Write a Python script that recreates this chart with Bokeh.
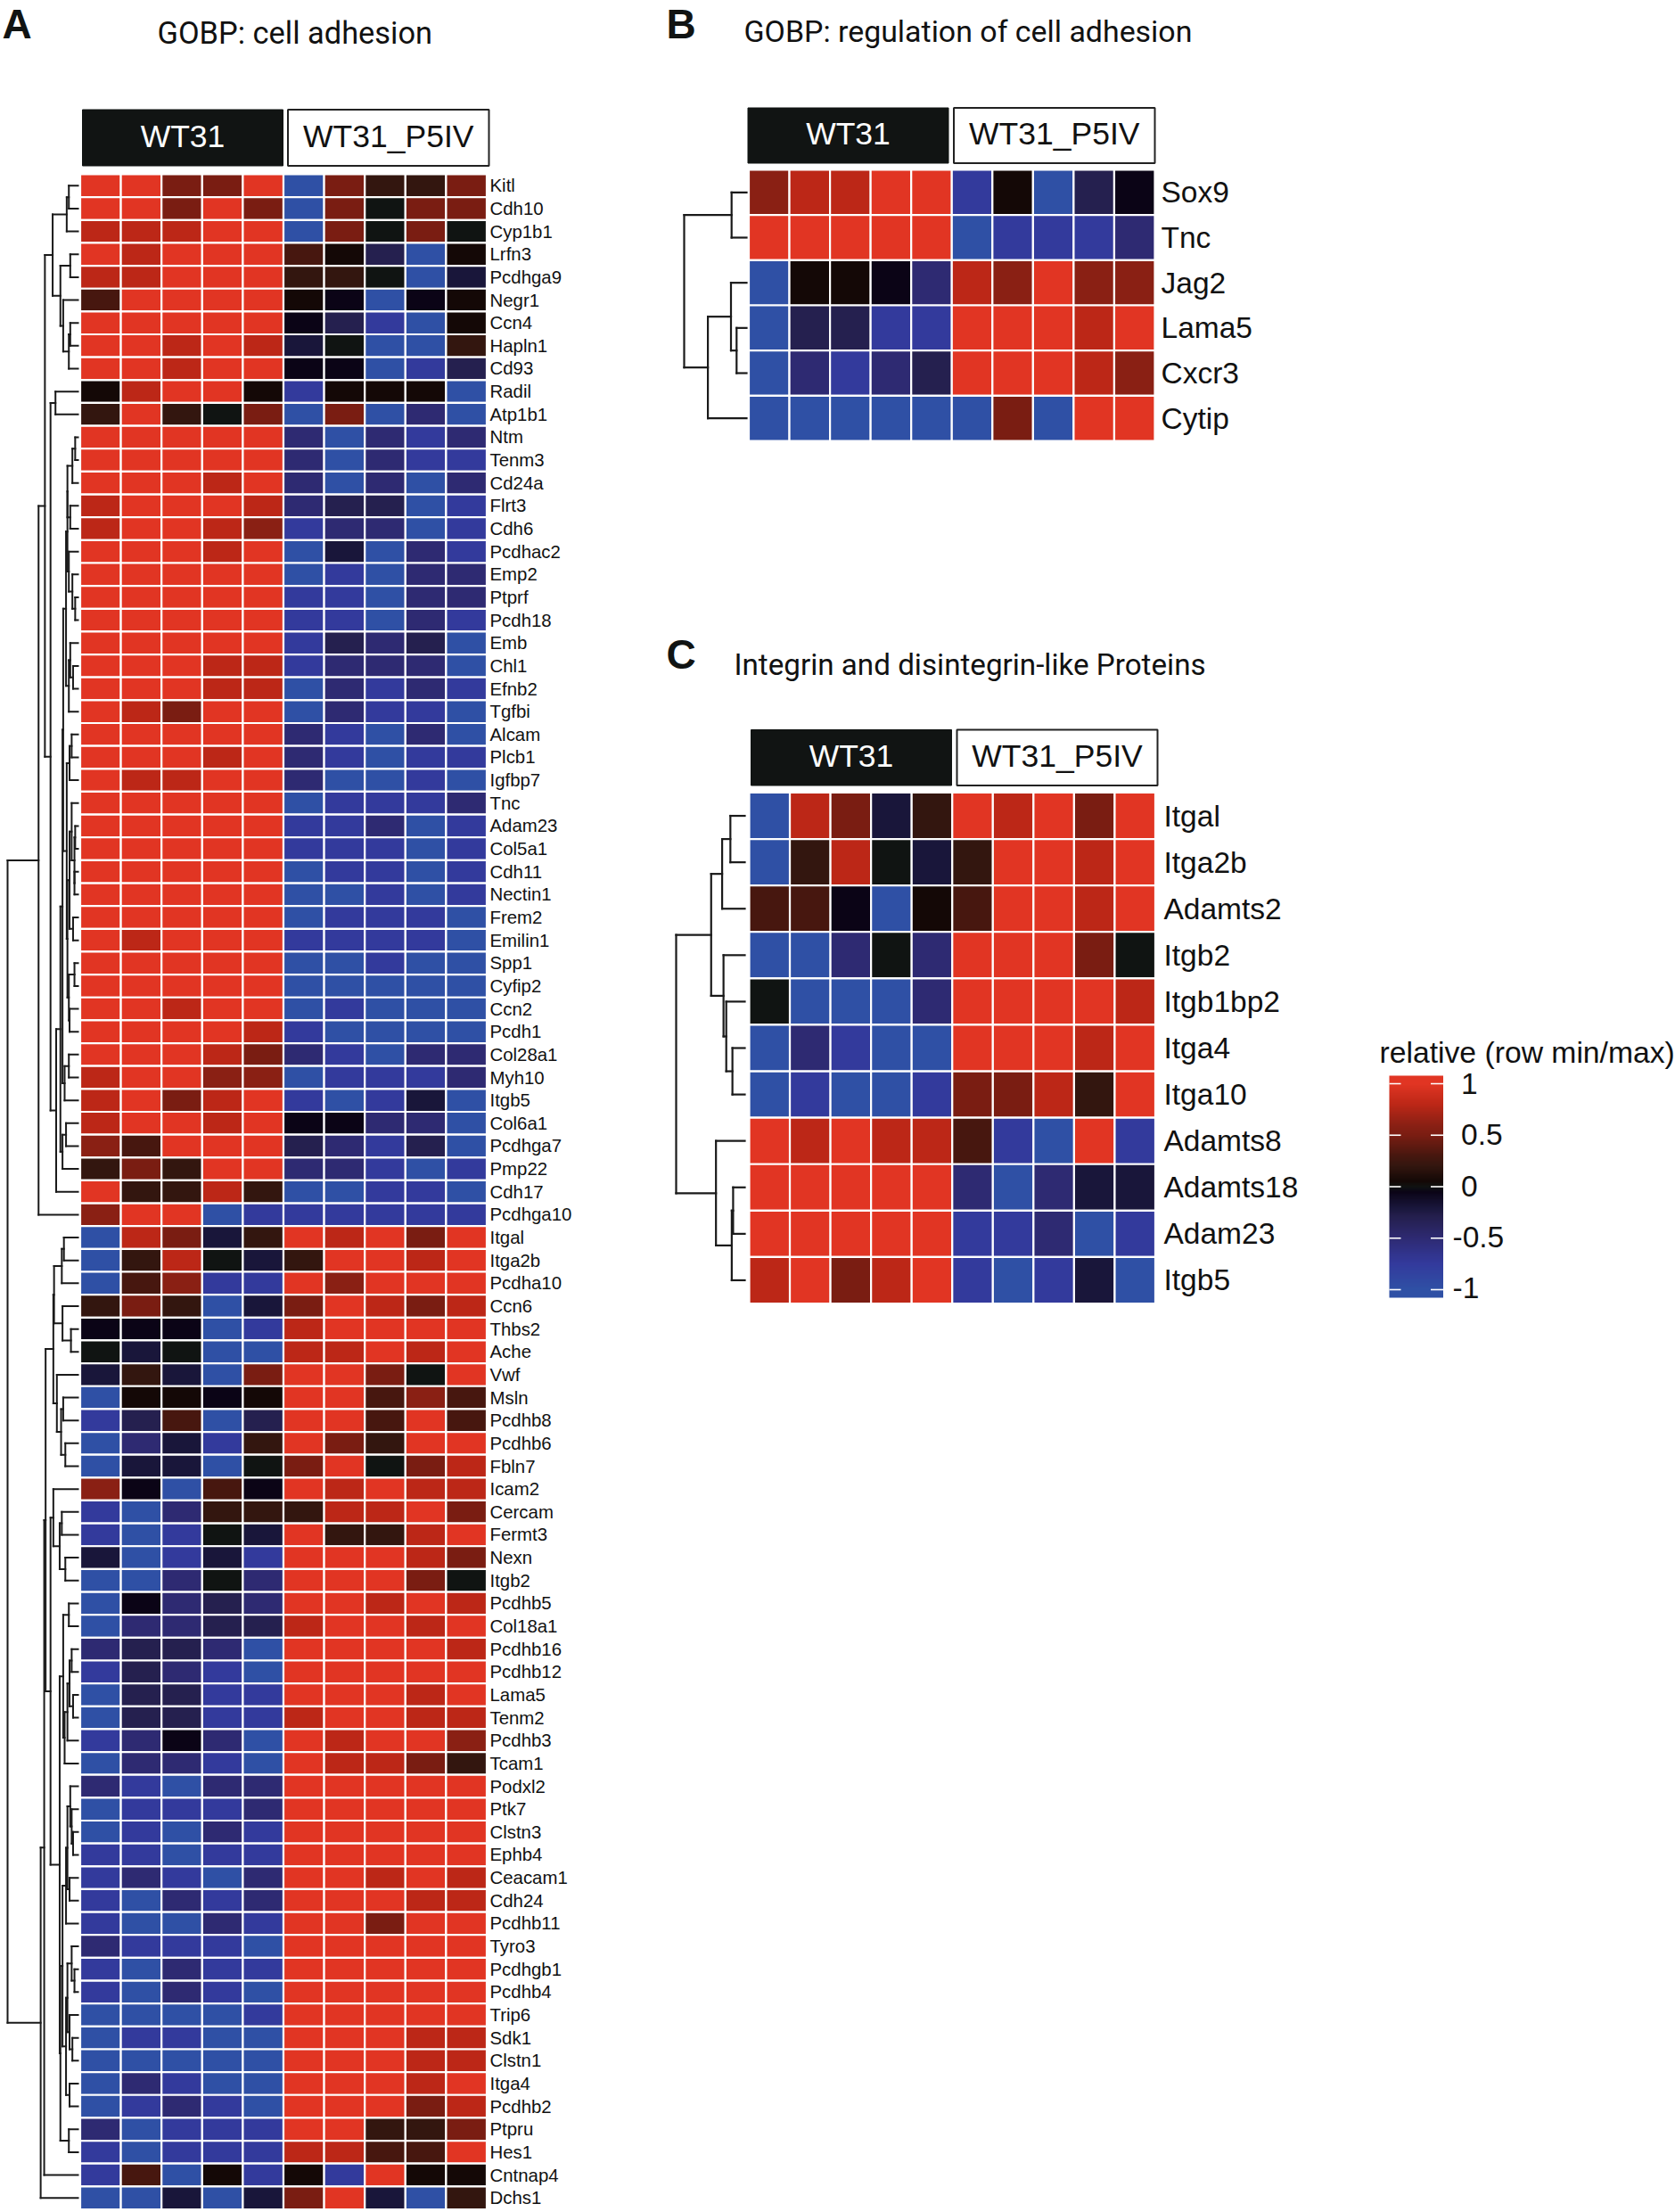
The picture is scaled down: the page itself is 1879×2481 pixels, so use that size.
from bokeh.plotting import figure
from bokeh.models import Range1d, LinearColorMapper, ColumnDataSource, Spacer
from bokeh.layouts import row, column
from bokeh.core.properties import value
from bokeh.embed import file_html
from bokeh.resources import INLINE
import numpy as np

group_labels = ["WT31", "WT31_P5IV"]
colorbar_ticks = [1, 0.5, 0, -0.5, -1]
colorbar_tick_labels = ["1", "0.5", "0", "-0.5", "-1"]

a_genes = ["Kitl","Cdh10","Cyp1b1","Lrfn3","Pcdhga9","Negr1","Ccn4","Hapln1","Cd93","Radil","Atp1b1","Ntm","Tenm3","Cd24a","Flrt3","Cdh6","Pcdhac2","Emp2","Ptprf","Pcdh18","Emb","Chl1","Efnb2","Tgfbi","Alcam","Plcb1","Igfbp7","Tnc","Adam23","Col5a1","Cdh11","Nectin1","Frem2","Emilin1","Spp1","Cyfip2","Ccn2","Pcdh1","Col28a1","Myh10","Itgb5","Col6a1","Pcdhga7","Pmp22","Cdh17","Pcdhga10","Itgal","Itga2b","Pcdha10","Ccn6","Thbs2","Ache","Vwf","Msln","Pcdhb8","Pcdhb6","Fbln7","Icam2","Cercam","Fermt3","Nexn","Itgb2","Pcdhb5","Col18a1","Pcdhb16","Pcdhb12","Lama5","Tenm2","Pcdhb3","Tcam1","Podxl2","Ptk7","Clstn3","Ephb4","Ceacam1","Cdh24","Pcdhb11","Tyro3","Pcdhgb1","Pcdhb4","Trip6","Sdk1","Clstn1","Itga4","Pcdhb2","Ptpru","Hes1","Cntnap4","Dchs1"]
a_values = [
[1,1,.5,.5,1,-1,.5,.2,.2,.5],
[1,1,.5,1,.5,-1,.5,0,.5,.5],
[.8,.8,.8,1,1,-1,.5,0,.5,0],
[1,.8,1,1,1,.3,.05,-.3,-1,.05],
[.8,.8,1,1,1,.2,.2,0,-1,-.2],
[.3,1,1,1,1,.05,-.05,-1,-.05,.05],
[1,1,1,1,1,-.05,-.3,-.75,-1,.05],
[1,1,.8,1,.8,-.2,0,-1,-1,.2],
[1,1,.8,1,1,-.05,-.05,-1,-.75,-.3],
[.05,.8,1,1,.05,-.75,.05,.05,.05,-1],
[.2,1,.2,0,.5,-1,.5,-1,-.5,-1],
[1,1,1,1,1,-.5,-1,-.5,-.75,-.5],
[1,1,1,1,1,-.5,-1,-.5,-.75,-.75],
[1,1,1,.8,1,-.5,-1,-.5,-1,-.5],
[.8,1,1,1,.8,-.5,-.3,-.3,-1,-.75],
[.8,1,1,.8,.6,-.75,-.5,-.5,-1,-.75],
[1,1,1,.8,1,-1,-.2,-1,-.5,-.75],
[1,1,1,1,1,-1,-.75,-1,-.5,-.5],
[1,1,1,1,1,-.75,-.75,-1,-.5,-.5],
[1,1,1,1,1,-.75,-.75,-1,-.5,-.75],
[1,1,1,1,1,-.75,-.3,-.5,-.3,-1],
[1,1,1,.8,.8,-.75,-.5,-.5,-.5,-1],
[1,1,1,.8,.8,-1,-.5,-.75,-.5,-.75],
[1,.8,.5,1,1,-1,-.5,-.75,-.75,-1],
[1,1,1,1,1,-.5,-.75,-1,-.5,-1],
[1,1,1,.8,1,-.5,-.75,-1,-.75,-.75],
[1,.8,.8,1,1,-.5,-1,-1,-.75,-1],
[1,1,1,1,1,-1,-.75,-.75,-.75,-.5],
[1,1,1,1,1,-.75,-.75,-.5,-1,-.75],
[1,1,1,1,1,-.75,-.75,-.75,-1,-.75],
[1,1,1,1,1,-1,-.75,-.75,-1,-.75],
[1,1,1,1,1,-1,-1,-.75,-1,-.75],
[1,1,1,1,1,-1,-.75,-.75,-.75,-1],
[1,.8,1,1,1,-.75,-.75,-.75,-.75,-1],
[1,1,1,1,1,-1,-1,-.75,-1,-1],
[1,1,1,1,1,-1,-1,-1,-1,-1],
[1,1,.8,1,1,-1,-.75,-1,-1,-1],
[1,1,1,1,.8,-.75,-1,-1,-1,-1],
[1,1,1,.8,.5,-.5,-.75,-1,-.5,-.5],
[.8,1,1,.6,.6,-1,-.75,-.75,-.75,-.5],
[.8,1,.5,.8,1,-.75,-1,-.75,-.2,-1],
[.8,1,1,.8,1,-.05,-.05,-.5,-.5,-1],
[.6,.3,1,1,1,-.3,-.5,-.75,-.3,-1],
[.2,.5,.2,1,1,-.5,-.5,-.75,-1,-.75],
[1,.2,.2,.8,.2,-1,-1,-.75,-.75,-1],
[.6,1,1,-1,-.75,-.75,-.75,-.75,-.75,-.75],
[-1,.8,.5,-.2,.2,1,.8,1,.5,1],
[-1,.2,.8,0,-.2,.2,1,1,.8,1],
[-1,.3,.6,-.75,-.75,1,.6,1,1,1],
[.2,.5,.2,-1,-.2,.5,1,.8,.5,.8],
[-.05,-.05,-.05,-1,-.75,.8,1,1,1,1],
[0,-.2,0,-1,-1,.8,.8,1,.8,1],
[-.2,.2,-.2,-1,.5,1,1,.5,0,1],
[-1,.05,.05,-.05,.05,1,1,.3,.6,.3],
[-.75,-.3,.3,-1,-.3,1,1,.3,1,.3],
[-1,-.5,-.2,-.75,.2,1,.5,.2,1,1],
[-1,-.2,-.2,-1,0,.5,1,0,.5,.8],
[.6,-.05,-1,.3,-.05,1,.8,1,.8,.8],
[-.75,-1,-.5,.2,.2,.2,.8,.8,1,.5],
[-.75,-1,-.75,0,-.2,1,.2,.2,.8,1],
[-.2,-1,-.75,-.2,-.75,1,1,1,.8,.5],
[-1,-1,-.5,0,-.5,1,1,1,.5,0],
[-1,-.05,-.5,-.3,-.5,1,1,.8,1,.8],
[-1,-.5,-.5,-.3,-.3,.8,1,1,.8,1],
[-.5,-.3,-.3,-.5,-1,1,1,1,1,.8],
[-.75,-.3,-.5,-.75,-1,1,1,1,1,1],
[-1,-.3,-.3,-.75,-.75,1,1,1,.8,1],
[-1,-.3,-.3,-.75,-.75,.8,1,1,.8,.8],
[-.75,-.5,-.05,-.5,-1,1,.8,1,1,.6],
[-1,-.5,-.5,-.75,-1,1,.8,.8,.5,.2],
[-.5,-.75,-1,-.5,-.5,1,1,1,1,1],
[-1,-.75,-.75,-.75,-.5,1,1,1,1,1],
[-1,-.75,-1,-.5,-.75,1,1,1,1,1],
[-.75,-.75,-1,-.75,-.75,1,1,1,1,1],
[-.75,-.5,-.75,-1,-.5,1,1,.8,1,.8],
[-.75,-1,-.5,-.75,-.5,1,1,1,.8,.8],
[-.75,-1,-1,-.5,-.75,1,1,.5,1,1],
[-.5,-.75,-.75,-.75,-1,1,1,1,1,1],
[-.75,-1,-.5,-.75,-.75,1,1,1,1,1],
[-.75,-1,-.5,-.75,-1,1,1,1,1,1],
[-1,-1,-1,-1,-.75,1,1,1,1,1],
[-1,-.75,-.75,-1,-1,1,1,1,.8,.8],
[-1,-1,-1,-1,-1,1,1,1,.8,.8],
[-1,-.5,-.75,-1,-1,1,1,1,.8,1],
[-1,-.75,-.5,-.75,-1,1,1,1,.5,.8],
[-.5,-1,-.75,-.75,-.75,1,1,.2,.2,.5],
[-.75,-1,-.75,-.75,-.75,.8,.8,.3,.3,1],
[-.75,.3,-1,.05,-.75,.05,-.75,1,.05,.05],
[-1,-1,-.2,-1,-.2,.5,1,-.2,-1,.2],
]
a_tree = (1,
 (.56,
  (.47,
   (.36, (.16, (.13, 0, 1), 2),
         (.25, (.11, 3, 4), (.21, 5, (.13, (.11, 6, 7), 8)))),
   (.39, (.32, 9, 10),
    (.31,
     (.25,
      (.22,
       (.21,
        (.17,
         (.15, (.15, (.08, (.04, 11, 12), 13), (.11, 14, 15)),
               (.13, 16, (.08, 17, (.04, 18, 19)))),
         (.13, (.11, 20, (.07, 21, 22)), 23)),
        (.16, (.12, (.09, 24, 25), 26),
         (.15, (.12, (.09, 27, (.05, (.04, 28, 29), (.05, 30, 31))), (.07, 32, 33)),
               (.13, (.05, 34, 35), (.12, 36, 37))))),
       (.19, (.13, 38, 39), 40)),
      (.22, (.17, 41, 42), 43)),
     44))),
  45),
 (.53,
  (.48,
   (.46,
    (.35,
     (.34, (.23, (.20, 46, 47), 48), (.22, 49, (.10, 50, 51))),
     (.30, 52, (.24, (.21, 53, 54), (.18, 55, 56)))),
    (.39,
     (.35, 57, (.26, (.23, 58, 59), (.18, 60, 61))),
     (.26,
      (.21, (.13, 62, 63),
       (.19, (.15, (.12, (.09, 64, 65), (.07, 66, 67)), 68), 69)),
      (.25,
       (.22,
        (.17, (.15, (.11, 70, (.09, 71, (.07, 72, 73))), (.12, 74, 75)), 76),
        (.17, (.15, (.09, 77, (.05, 78, 79)), (.12, 80, (.08, 81, 82))), (.12, 83, 84))),
       (.13, 85, 86))))),
   87),
  88))

b_genes = ["Sox9","Tnc","Jag2","Lama5","Cxcr3","Cytip"]
b_values = [
[.6,.8,.8,1,1,-.75,.05,-1,-.3,-.05],
[1,1,1,1,1,-1,-.75,-.75,-.75,-.5],
[-1,.05,.05,-.05,-.5,.8,.6,1,.6,.6],
[-1,-.3,-.3,-.75,-.75,1,1,1,.8,1],
[-1,-.5,-.75,-.5,-.3,1,1,1,.8,.6],
[-1,-1,-1,-1,-1,-1,.5,-1,1,1],
]
b_tree = (1, (.24, 0, 1), (.62, (.25, 2, (.16, 3, 4)), 5))

c_genes = ["Itgal","Itga2b","Adamts2","Itgb2","Itgb1bp2","Itga4","Itga10","Adamts8","Adamts18","Adam23","Itgb5"]
c_values = [
[-1,.8,.5,-.2,.2,1,.8,1,.5,1],
[-1,.2,.8,0,-.2,.2,1,1,.8,1],
[.3,.3,-.05,-1,.05,.3,1,1,.8,1],
[-1,-1,-.5,0,-.5,1,1,1,.5,0],
[0,-1,-1,-1,-.5,1,1,1,1,.8],
[-1,-.5,-.75,-1,-1,1,1,1,.8,1],
[-1,-.75,-1,-1,-.75,.5,.5,.8,.2,1],
[1,.8,1,.8,.8,.3,-.75,-1,1,-.75],
[1,1,1,1,1,-.5,-1,-.5,-.2,-.2],
[1,1,1,1,1,-.75,-.75,-.5,-1,-.75],
[.8,1,.5,.8,1,-.75,-1,-.75,-.2,-1],
]
c_tree = (1,
 (.49, (.33, (.21, 0, 1), 2), (.31, 3, (.27, 4, (.18, 5, 6)))),
 (.42, 7, (.19, (.17, 8, 9), 10)))

# colour scale
stop_values = [-1, -.75, -.5, -.3, -.2, -.05, 0, .05, .2, .3, .5, .6, .8, 1]
stop_colors = ["#2F50A5","#333A9C","#2E2A72","#25204F","#19163A","#0B0416","#101412",
               "#140806","#33160F","#47170F","#7A1D12","#8A2014","#BC2717","#E13523"]

FONT = value("Liberation Sans")
NARROW = value("Roboto")
INK = "#111413"
BASE_SHIFT = 0.37   # Bokeh draws its "alphabetic" text this fraction of a size below y
LETTER_SIZE = 46


def make_palette(n=401):
    rgb = np.array([[int(c[i:i+2], 16) for i in (1, 3, 5)] for c in stop_colors], float)
    grid = np.linspace(-1, 1, n)
    channels = [np.interp(grid, stop_values, rgb[:, k]) for k in range(3)]
    return ["#%02x%02x%02x" % tuple(int(round(ch[i])) for ch in channels) for i in range(n)]


mapper = LinearColorMapper(palette=make_palette(), low=-1, high=1)


def bare(left, top, width, height, xr, yr, **kw):
    p = figure(x_range=xr, y_range=yr, width=width, height=height, toolbar_location=None,
               output_backend="svg", min_border=0, x_axis_location=None, y_axis_location=None,
               outline_line_color=None, **kw)
    p.grid.visible = False
    return p


def tree_segments(node, xs0, xs1, ys0, ys1):
    if isinstance(node, int):
        return 0.0, node + 0.5
    d, a, b = node
    da, ya = tree_segments(a, xs0, xs1, ys0, ys1)
    db, yb = tree_segments(b, xs0, xs1, ys0, ys1)
    for dc, yc in ((da, ya), (db, yb)):
        xs0.append(dc); xs1.append(d); ys0.append(yc); ys1.append(yc)
    xs0.append(d); xs1.append(d); ys0.append(ya); ys1.append(yb)
    return d, (ya + yb) / 2


def panel(box, heat, leaf_x, root_x, genes, vals, tree, bars, bar_y, label_x, label_size,
          title, title_x, title_base, title_size, letter, letter_x, letter_base, lw):
    left, top, width, height = box
    hl, hr, ht, hb = heat
    nrow = len(genes)
    cu = (hr - hl) / 10
    ru = (hb - ht) / nrow
    xr = Range1d((left - hl) / cu, (left + width - hl) / cu)
    yr = Range1d((top + height - ht) / ru, (top - ht) / ru)
    p = bare(left, top, width, height, xr, yr)
    px = lambda x: (x - hl) / cu
    py = lambda y: (y - ht) / ru

    xs, ys, vs = [], [], []
    for r, rowvals in enumerate(vals):
        for c, v in enumerate(rowvals):
            xs.append(c + .5); ys.append(r + .5); vs.append(v)
    p.rect(x="x", y="y", width=1, height=1, source=ColumnDataSource(dict(x=xs, y=ys, v=vs)),
           fill_color=dict(field="v", transform=mapper), line_color="white", line_width=2.2)

    # dendrogram
    p.extra_x_ranges["dist"] = Range1d((left - leaf_x) / (root_x - leaf_x),
                                       (left + width - leaf_x) / (root_x - leaf_x))
    a0, a1, b0, b1 = [], [], [], []
    tree_segments(tree, a0, a1, b0, b1)
    p.segment(x0=a0, x1=a1, y0=b0, y1=b1, x_range_name="dist", line_color="#1a1a1a",
              line_width=lw, line_cap="square")

    # group bars
    (b1l, b1r), (b2l, b2r) = bars
    bt, bb = bar_y
    p.quad(left=[px(b1l)], right=[px(b1r)], top=[py(bt)], bottom=[py(bb)], fill_color=INK, line_color=INK)
    p.quad(left=[px(b2l)], right=[px(b2r)], top=[py(bt)], bottom=[py(bb)], fill_color="white",
           line_color="#222222", line_width=2)
    p.text(x=[px((b1l + b1r) / 2), px((b2l + b2r) / 2)], y=[py((bt + bb) / 2 - 2)] * 2, text=group_labels,
           text_color=["white", "#111111"], text_font=FONT, text_font_size="35.5px",
           text_align="center", text_baseline="middle")

    # row labels
    p.text(x=[px(label_x)] * nrow, y=[r + .5 for r in range(nrow)], text=genes, text_color="#111111",
           text_font=FONT, text_font_size=label_size, text_align="left", text_baseline="middle")

    p.text(x=[px(title_x)], y=[py(title_base - BASE_SHIFT * title_size)], text=[title], text_color="#111111",
           text_font=NARROW, text_font_size=f"{title_size}px", text_align="left", text_baseline="alphabetic")
    p.text(x=[px(letter_x)], y=[py(letter_base - BASE_SHIFT * LETTER_SIZE)], text=[letter], text_color=INK,
           text_font=FONT, text_font_style="bold", text_font_size=f"{LETTER_SIZE}px", text_align="left",
           text_baseline="alphabetic")
    return p


fig_a = panel((0, 0, 700, 2481), (89.5, 545.5, 195, 2477.5), 87, 8, a_genes, a_values, a_tree,
              ((92, 317), (322.5, 548)), (122.5, 185.5), 549, "20.4px",
              "GOBP: cell adhesion", 176, 49, 34.4, "A", 2, 44, 2)
fig_b = panel((700, 0, 800, 540), (839.5, 1295, 190, 494), 837, 767, b_genes, b_values, b_tree,
              ((838.5, 1063.5), (1069.5, 1295)), (120.5, 182.5), 1302, "33.5px",
              "GOBP: regulation of cell adhesion", 834, 48, 33.9, "B", 747, 44, 2.2)
fig_c = panel((700, 700, 800, 780), (840, 1295.5, 888.5, 1461.5), 835, 758, c_genes, c_values, c_tree,
              ((842, 1067), (1073, 1298)), (818, 880.5), 1305, "33.5px",
              "Integrin and disintegrin-like Proteins", 823, 757, 33.2, "C", 747, 751, 2.2)

# legend, drawn on the colour-value axis
L_LEFT, L_TOP, L_W, L_H = 1500, 1130, 379, 350
unit = (1446 - 1215) / 2           # px per value
y_at_zero = 1330.5
bar_l, bar_r = 1558, 1618.5
bar_low, bar_high = -1.078, 1.078
lx = Range1d(L_LEFT, L_LEFT + L_W)
ly = Range1d((y_at_zero - (L_TOP + L_H)) / unit, (y_at_zero - L_TOP) / unit)
fig_l = bare(L_LEFT, L_TOP, L_W, L_H, lx, ly)
gradient = np.linspace(bar_low, bar_high, 400).reshape(-1, 1)
fig_l.image(image=[gradient], x=bar_l, y=bar_low, dw=bar_r - bar_l, dh=bar_high - bar_low, color_mapper=mapper)
for a, b in ((bar_l, bar_l + 13), (bar_r - 14, bar_r)):
    fig_l.segment(x0=[a] * 5, x1=[b] * 5, y0=colorbar_ticks, y1=colorbar_ticks, line_color="white", line_width=1.6)
label_nudge = [0, .004, .008, .012, .018]
fig_l.text(x=[1638.5, 1638.5, 1638.5, 1629, 1629], y=[t + n for t, n in zip(colorbar_ticks, label_nudge)],
           text=colorbar_tick_labels, text_color="#111111", text_font=FONT, text_font_size="33.5px",
           text_align="left", text_baseline="middle")
fig_l.text(x=[1547], y=[(y_at_zero - (1192 - BASE_SHIFT * 33.7)) / unit], text=["relative (row min/max)"],
           text_color="#111111", text_font=FONT, text_font_size="33.7px", text_align="left", text_baseline="alphabetic")

layout = row(
    fig_a,
    column(fig_b, Spacer(width=800, height=160), fig_c, spacing=0),
    column(Spacer(width=379, height=1130), fig_l, spacing=0),
    spacing=0,
)
open("out.html", "w").write(file_html(layout, INLINE))
